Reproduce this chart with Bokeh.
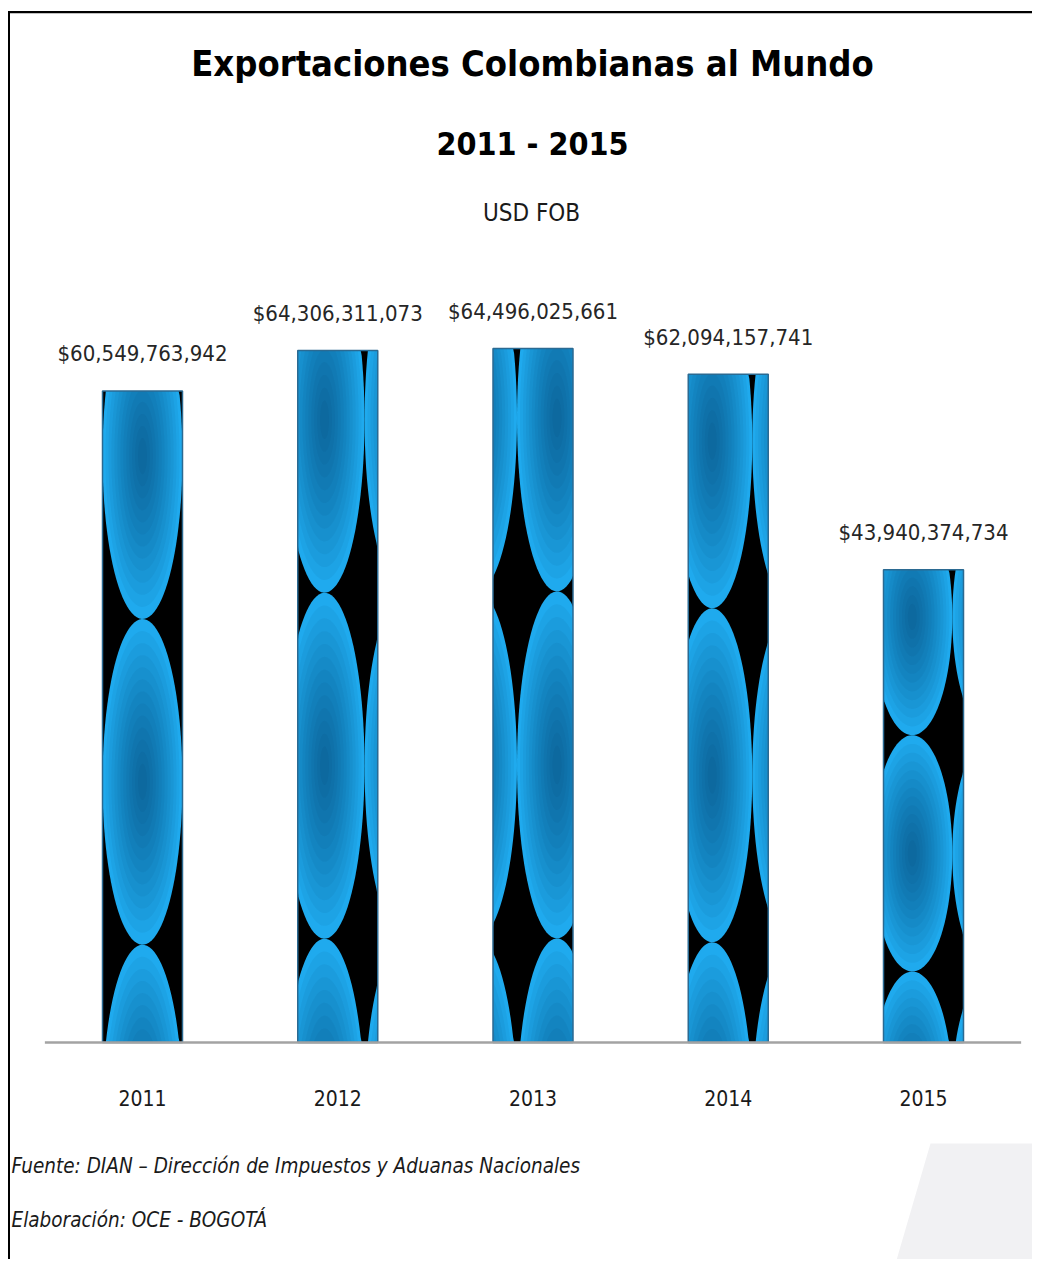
from bokeh.plotting import figure
from bokeh.models import Label, BoxAnnotation, Range1d
from bokeh.embed import file_html
from bokeh.resources import INLINE
from bokeh.core.properties import value
import numpy as np

# ---------------- data ----------------
years = ["2011", "2012", "2013", "2014", "2015"]
exports_usd = [60549763942, 64306311073, 64496025661, 62094157741, 43940374734]
value_labels = ["${:,}".format(v) for v in exports_usd]

title_text = "Exportaciones Colombianas al Mundo"
subtitle_text = "2011 - 2015"
unit_text = "USD FOB"
source_text = "Fuente: DIAN \u2013 Direcci\u00f3n de Impuestos y Aduanas Nacionales"
credit_text = "Elaboraci\u00f3n: OCE - BOGOT\u00c1"

# ---------------- layout / style ----------------
FONT = "DejaVu Sans Condensed"
W, H = 1032, 1259            # canvas size
STEP = 195.25                # px between category centres
X0 = 142                     # px of first category centre
BASE = 217                   # px of baseline above canvas bottom
PX = max(exports_usd) / 694  # data units per px
BW = 80 / STEP               # bar width in category units
pattern_shift = [0.0, 0.835, 0.30, 0.80, 0.86]   # horizontal phase of the picture fill

xs = list(range(len(years)))

p = figure(width=W, height=H,
           x_range=Range1d(-X0 / STEP, (W - X0) / STEP),
           y_range=Range1d(-BASE * PX, (H - BASE) * PX),
           x_axis_location=None, y_axis_location=None,
           toolbar_location=None, output_backend="svg",
           min_border=0, outline_line_color=None,
           background_fill_color="white", border_fill_color="white")
p.title.visible = False
p.grid.visible = False


def dx(px_x):
    return (px_x - X0) / STEP


def dy(px_y):
    return (H - px_y - BASE) * PX


def sy(px_y):
    return H - px_y


# light grey decorative shape (bottom right)
p.patch(x=[dx(930), dx(1045), dx(1045), dx(893)],
        y=[dy(1143), dy(1143), dy(1270), dy(1270)],
        fill_color="#f1f1f3", line_color=None)

# bar background
p.vbar(x=xs, top=exports_usd, width=BW, bottom=0,
       fill_color="black", line_color=None)

# picture-fill imitation: grid of blue ellipses clipped to each bar
t = np.linspace(0, 2 * np.pi, 100)
NL = 13
pxs, pys, pcol, palpha = [], [], [], []
for i, v in enumerate(exports_usd):
    xl, xr = i - BW / 2, i + BW / 2
    a, b = BW / 2, v / 4
    for k in (-1, 0, 1):
        cx = xl + (pattern_shift[i] + 0.5 + k) * BW
        for j in (-1, 0, 1):
            cy = v * (0.4 + 0.5 * j)
            for layer in range(NL):
                s = 1 - layer / (NL + 0.5)
                ex = np.clip(cx + a * s * np.cos(t), xl, xr)
                ey = np.clip(cy + b * s * np.sin(t), 0, v)
                if np.ptp(ex) < 1e-9 or np.ptp(ey) < 1e-9:
                    continue
                pxs.append(list(ex))
                pys.append(list(ey))
                if layer == 0:
                    pcol.append("#1faaee")
                    palpha.append(1.0)
                else:
                    pcol.append("#05304c")
                    palpha.append(0.05)
p.patches(xs=pxs, ys=pys, fill_color=pcol, fill_alpha=palpha, line_color=None)

# bar outline
p.vbar(x=xs, top=exports_usd, width=BW, bottom=0,
       fill_color=None, line_color="#2b6a92", line_width=1.5)

# baseline (category axis line)
p.segment(x0=[xs[0] - 0.5], y0=[0], x1=[xs[-1] + 0.5], y1=[0],
          line_color="#a3a3a3", line_width=2.5)

# value labels
p.text(x=xs, y=exports_usd, text=value_labels, text_align="center",
       text_baseline="middle", y_offset=-37,
       text_font=value(FONT), text_font_size="22px", text_color="#262626")

# category labels
p.text(x=xs, y=[0] * len(xs), text=years, text_align="center",
       text_baseline="middle", y_offset=55,
       text_font=value(FONT), text_font_size="21px", text_color="#1a1a1a")

# titles
p.add_layout(Label(x=532, y=sy(63), x_units="screen", y_units="screen",
                   text=title_text, text_align="center", text_baseline="middle",
                   text_font=FONT, text_font_style="bold", text_font_size="36px",
                   text_color="black"))
p.add_layout(Label(x=532, y=sy(143), x_units="screen", y_units="screen",
                   text=subtitle_text, text_align="center", text_baseline="middle",
                   text_font=FONT, text_font_style="bold", text_font_size="32px",
                   text_color="black"))
p.add_layout(Label(x=531, y=sy(212), x_units="screen", y_units="screen",
                   text=unit_text, text_align="center", text_baseline="middle",
                   text_font=FONT, text_font_size="24px", text_color="#1a1a1a"))

# footer
p.add_layout(Label(x=11, y=sy(1165), x_units="screen", y_units="screen",
                   text=source_text, text_align="left", text_baseline="middle",
                   text_font=FONT, text_font_style="italic", text_font_size="20.5px",
                   text_color="#1a1a1a"))
p.add_layout(Label(x=11, y=sy(1219), x_units="screen", y_units="screen",
                   text=credit_text, text_align="left", text_baseline="middle",
                   text_font=FONT, text_font_style="italic", text_font_size="20.5px",
                   text_color="#1a1a1a"))

# frame lines (left and top)
scr = dict(left_units="screen", right_units="screen",
           top_units="screen", bottom_units="screen",
           fill_color="black", fill_alpha=1.0, line_color=None)
p.add_layout(BoxAnnotation(left=7.5, right=W + 20, top=sy(10.5), bottom=sy(12.8), **scr))
p.add_layout(BoxAnnotation(left=7.5, right=9.5, top=sy(10.5), bottom=-20, **scr))

open("out.html", "w").write(file_html(p, INLINE))
